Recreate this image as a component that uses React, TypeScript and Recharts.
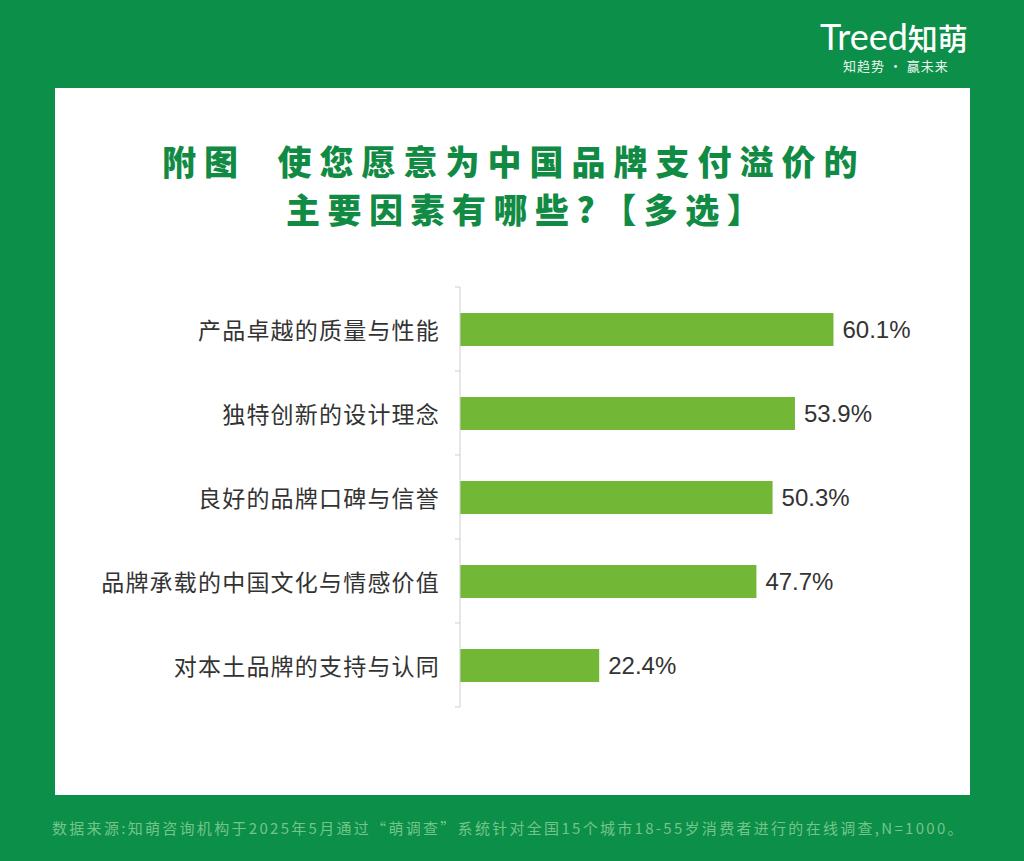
import React from 'react';
import { BarChart, Bar, XAxis, YAxis, LabelList } from 'recharts';

const categories = [
  '产品卓越的质量与性能',
  '独特创新的设计理念',
  '良好的品牌口碑与信誉',
  '品牌承载的中国文化与情感价值',
  '对本土品牌的支持与认同',
];
const shares = [60.1, 53.9, 50.3, 47.7, 22.4];

const data = categories.map((name, i) => ({ name, value: shares[i] }));

const GREEN_BG = '#0c8f48';
const TITLE_GREEN = '#118b44';
const BAR_GREEN = '#72b836';

const PLOT_TOP = 287;
const PLOT_BOTTOM = 707;
const BAND = (PLOT_BOTTOM - PLOT_TOP) / categories.length;
const TICK_GAP = 21;

const CategoryTick = (props: any) => {
  const { x, y, payload, index } = props;
  const axisX = x + TICK_GAP;
  return (
    <g>
      <text
        x={x + 1}
        y={y}
        textAnchor="end"
        dominantBaseline="central"
        fontSize={23}
        letterSpacing={1.2}
        fill="#333"
        fontFamily="'Noto Sans CJK SC', sans-serif"
      >
        {payload.value}
      </text>
      <line x1={axisX - 5} x2={axisX} y1={y - BAND / 2} y2={y - BAND / 2} stroke="#cfcfcf" />
      {index === categories.length - 1 && (
        <line x1={axisX - 5} x2={axisX} y1={y + BAND / 2} y2={y + BAND / 2} stroke="#cfcfcf" />
      )}
    </g>
  );
};

const titleStyle: React.CSSProperties = {
  position: 'absolute',
  color: TITLE_GREEN,
  fontSize: 34,
  fontWeight: 900,
  letterSpacing: 7,
  lineHeight: '48px',
  whiteSpace: 'pre',
};

export default function App() {
  return (
    <div
      style={{
        position: 'absolute',
        left: 0,
        top: 0,
        width: 1024,
        height: 861,
        background: GREEN_BG,
        overflow: 'hidden',
        fontFamily: "'Noto Sans CJK SC', sans-serif",
      }}
    >
      {/* logo */}
      <div style={{ position: 'absolute', left: 820, top: 11, color: '#fff', fontSize: 36, lineHeight: '46px', whiteSpace: 'nowrap' }}>
        <span style={{ fontFamily: 'Lato, sans-serif', letterSpacing: 0 }}>Treed</span>
        <span style={{ fontWeight: 500, fontSize: 30 }}>知萌</span>
      </div>
      <div style={{ position: 'absolute', left: 843, top: 56, color: '#e8f5ec', fontSize: 13, letterSpacing: 1, whiteSpace: 'nowrap' }}>
        知趋势 · 赢未来
      </div>

      {/* white panel */}
      <div style={{ position: 'absolute', left: 55, top: 88, width: 915, height: 707, background: '#fff' }} />

      {/* title */}
      <div style={{ ...titleStyle, left: 162, top: 137, letterSpacing: 8 }}>{'附图  使您愿意为中国品牌支付溢价的'}</div>
      <div style={{ ...titleStyle, left: 286, top: 185, letterSpacing: 7.5 }}>{'主要因素有哪些?【多选】'}</div>

      <div style={{ position: 'absolute', left: 0, top: 0 }}>
        <BarChart
          width={1024}
          height={861}
          data={data}
          layout="vertical"
          margin={{ top: PLOT_TOP, bottom: 861 - PLOT_BOTTOM, left: 0, right: 129 }}
          barSize={33}
        >
          <XAxis type="number" domain={[0, 70]} hide />
          <YAxis
            type="category"
            dataKey="name"
            width={460}
            tickSize={0}
            tickMargin={TICK_GAP}
            tickLine={false}
            axisLine={{ stroke: '#cfcfcf' }}
            tick={<CategoryTick />}
            interval={0}
          />
          <Bar dataKey="value" fill={BAR_GREEN} isAnimationActive={false}>
            <LabelList
              dataKey="value"
              position="right"
              offset={9}
              formatter={(v: any) => `${v}%`}
              fill="#333"
              fontSize={24}
              fontFamily="'Liberation Sans', Arial, sans-serif"
            />
          </Bar>
        </BarChart>
      </div>

      {/* footer */}
      <div
        style={{
          position: 'absolute',
          left: 52,
          top: 817,
          color: '#74c58a',
          fontSize: 15,
          letterSpacing: 2.3,
          whiteSpace: 'nowrap',
        }}
      >
        数据来源:知萌咨询机构于2025年5月通过“萌调查”系统针对全国15个城市18-55岁消费者进行的在线调查,N=1000。
      </div>
    </div>
  );
}
